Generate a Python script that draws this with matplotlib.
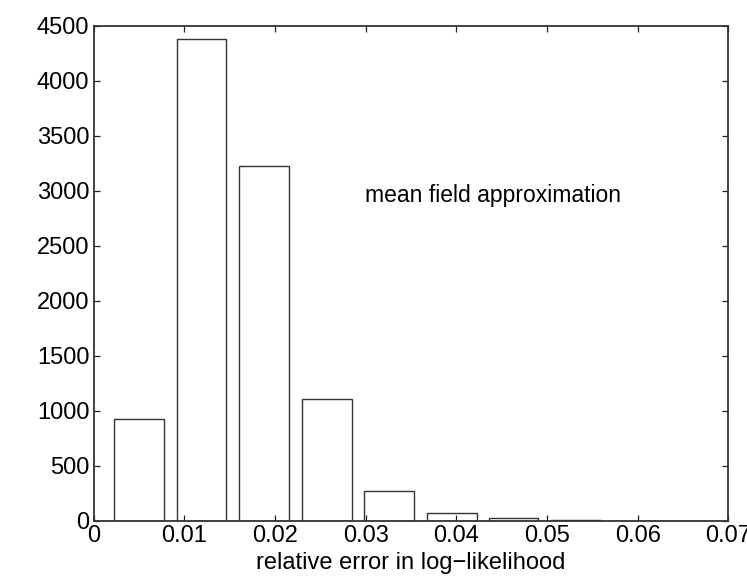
import matplotlib
matplotlib.use("Agg")
import matplotlib.pyplot as plt

bin_centers = [0.0050, 0.0119, 0.0188, 0.0257, 0.0326, 0.0395, 0.0463, 0.0532, 0.0601, 0.0670]
counts = [927, 4380, 3228, 1103, 269, 73, 20, 7, 0, 0]
xticks = [0, 0.01, 0.02, 0.03, 0.04, 0.05, 0.06, 0.07]
xtick_labels = ["0", "0.01", "0.02", "0.03", "0.04", "0.05", "0.06", "0.07"]
yticks = [0, 500, 1000, 1500, 2000, 2500, 3000, 3500, 4000, 4500]
annotation = "mean field approximation"
xlabel = "relative error in log\u2212likelihood"

plt.rcParams['font.family'] = ['Liberation Sans', 'DejaVu Sans']

fig = plt.figure(figsize=(7.47, 5.77), dpi=100)
ax = fig.add_axes([0.1252, 0.0976, 0.85, 0.8579])

ax.bar(bin_centers, counts, width=0.0055, facecolor='white', edgecolor='#333333', linewidth=1.0)

ax.set_xlim(0, 0.07)
ax.set_ylim(0, 4500)
ax.set_xticks(xticks)
ax.set_xticklabels(xtick_labels)
ax.set_yticks(yticks)
ax.tick_params(direction='in', length=4.5, width=0.9, top=True, right=True,
               labelsize=17, colors='#222222', labelcolor='black', pad=3)
for s in ax.spines.values():
    s.set_linewidth(1.3)
    s.set_color('#333333')

ax.text(0.0299, 2960, annotation, fontsize=16.5, va='center', ha='left')
ax.set_xlabel(xlabel, fontsize=17, labelpad=4)

fig.savefig("out.png", dpi=100)
